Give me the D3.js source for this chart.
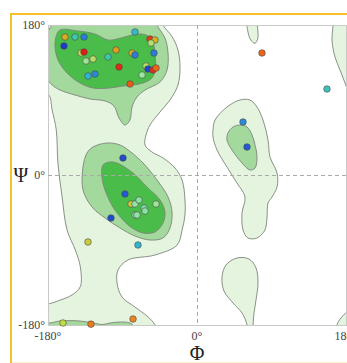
<!DOCTYPE html>
<html>
<head>
<meta charset="utf-8">
<script src="https://cdn.jsdelivr.net/npm/d3@7"></script>
<style>
  html, body { margin: 0; padding: 0; background: #fff; }
  svg { display: block; }
  .tick-label { font-family: "Liberation Serif", "DejaVu Serif", serif; font-size: 12px; fill: #444; }
  .axis-title { font-family: "Liberation Serif", "DejaVu Serif", serif; font-size: 20px; fill: #222; }
</style>
</head>
<body>
<svg id="chart" width="347" height="363"></svg>
<script>
// Backbone dihedral angles (degrees) for each residue
const phi = [-159.5, -147.4, -136.5, -160.7, -140.1, -136.5, -134.1, -125.6, -131.7, -123.2,
             -107.5, -97.9, -94.2, -80.9, -74.9, -78.5, -74.9, -56.8, -50.7, -55.6,
             -52.0, -61.6, -59.2, -53.2, -49.5, -66.4, 78.5, 157.0, 55.6, 60.4,
             -89.4, -87.0, -79.7, -74.9, -70.1, -64.0, -62.8, -74.9, -72.5, -49.5,
             -103.9, -131.7, -71.3, -161.9, -128.1, -77.3];
const psi = [165.6, 165.6, 165.6, 154.8, 146.4, 147.6, 136.8, 139.2, 118.8, 121.2,
             141.6, 150.0, 129.6, 109.2, 171.6, 146.4, 144.0, 163.2, 162.0, 158.4,
             146.4, 130.8, 127.2, 126.0, 128.4, 120.0, 146.4, 103.2, 63.6, 33.6,
             20.4, -22.8, -34.8, -34.8, -30.0, -39.6, -43.2, -48.0, -48.0, -34.8,
             -51.6, -80.4, -84.0, -177.6, -179.0, -172.8];
// Position along the chain (0 = N-terminus, 1 = C-terminus), used for colouring
const chainPosition = [0.72, 0.35, 0.12, 0.00, 0.58, 1.00, 0.50, 0.56, 0.25, 0.15,
                       0.35, 0.76, 0.98, 0.90, 0.28, 0.72, 0.12, 0.95, 0.70, 0.55,
                       0.12, 0.56, 0.02, 0.97, 0.88, 0.48, 0.88, 0.32, 0.15, 0.06,
                       0.03, 0.06, 0.64, 0.47, 0.46, 0.44, 0.46, 0.45, 0.47, 0.50,
                       0.03, 0.64, 0.26, 0.60, 0.84, 0.82];

// Tick labels
const phiTicks = [-180, 0, 180];
const psiTicks = [-180, 0, 180];

// Allowed regions (outermost contour), as [phi, psi] outlines
const allowedBetaAlpha = [[-190, 190], [-42, 190], [-41, 180], [-30, 166], [-23, 150], [-20.5, 130],
  [-23, 108], [-32.6, 90], [-44.7, 75.6], [-56.8, 60], [-61.6, 48], [-62.8, 36], [-54.4, 27.6],
  [-41, 20.4], [-26.6, 8.4], [-18, -6], [-14.5, -30], [-14.5, -48], [-18, -66], [-24, -84],
  [-50.7, -96], [-83.4, -102], [-95.4, -114], [-96.6, -129.6], [-90.6, -146.4], [-75, -158.4],
  [-59, -170.4], [-50.7, -180], [-47, -192], [-190, -192], [-190, -160], [-171.5, -152.4],
  [-151, -144], [-141, -134], [-141, -110], [-147, -90], [-157, -66], [-163, -26], [-168, 14],
  [-170, 54], [-175, 78], [-179, 96], [-190, 100]];
const allowedLeftAlpha = [[19.3, 54], [21.8, 66], [36.2, 81.6], [51.9, 90], [64, 90], [72.5, 81.6],
  [79.7, 66], [85.8, 42], [88.2, 21.6], [96.7, 2.4], [96.7, -14.4], [90.6, -26.4], [85.8, -33.6],
  [84.6, -50.4], [82.1, -66], [72.5, -75.6], [61.6, -75.6], [55.6, -66], [54.4, -45.6], [58, -26.4],
  [48.3, -9.6], [36.2, 9.6], [24.2, 30], [19.3, 45.6]];
const allowedGammaTop = [[61, 192], [61.5, 172], [65, 162], [70, 158], [73.5, 164], [73, 180], [73, 192]];
const allowedGammaBottom = [[30.2, -122.4], [35, -108], [48.3, -99.6], [62.8, -100.8], [71.3, -111.6],
  [73.7, -129.6], [71.3, -150], [68.9, -165.6], [67.7, -180], [67.7, -192], [60.4, -192], [60.4, -180],
  [54.4, -165.6], [43.5, -153.6], [32.6, -139.2]];
const allowedEdgeTop = [[164, 192], [164.3, 180], [163.1, 162], [166.7, 141.6], [172.8, 126],
  [178.8, 110.4], [185, 96], [192, 94], [192, 192]];
const allowedEdgeBottom = [[169, -192], [169, -180], [173.9, -171.6], [181, -164.4], [192, -158], [192, -192]];

// Generously favoured regions (middle contour)
const middleBeta = [[-177.5, 177], [-168, 181], [-50, 190], [-48.3, 180], [-38.7, 164.4], [-35, 146.4],
  [-36.2, 126], [-44.7, 111.6], [-62.8, 102], [-72.5, 93.6], [-78.5, 81.6], [-81, 66], [-87, 60],
  [-94.2, 68.4], [-100.3, 82.8], [-111, 88.8], [-129.3, 91.2], [-147.4, 96], [-165.5, 102],
  [-175, 108], [-180.5, 116], [-181, 150]];
const middleBetaBottom = [[-190, -192], [-190, -178], [-177.6, -177.6], [-165.5, -175.2], [-141.3, -175.2],
  [-125.6, -177.6], [-113.6, -179.4], [-105, -177.6], [-93, -176.4], [-81, -177.6], [-76, -182], [-76, -192]];
const middleAlpha = [[-132.9, 26.4], [-125.6, 33.6], [-108.7, 38.4], [-93, 36], [-78.5, 26.4],
  [-65.2, 14.4], [-48.3, -6], [-35, -26.4], [-30.2, -44.4], [-32.6, -63.6], [-41.1, -75.6],
  [-56.8, -78], [-74.9, -73.2], [-93, -63.6], [-111.1, -51.6], [-126.8, -38.4], [-137.7, -18],
  [-137.7, 9.6]];
const middleLeftAlpha = [[37.4, 50.4], [43.5, 57.6], [51.9, 60], [60.4, 57.6], [66.5, 48], [70.1, 36],
  [72.5, 21.6], [70.1, 8.4], [64, 6], [54.4, 14.4], [42.3, 30], [36.2, 42]];

// Core favoured regions (inner contour)
const coreBeta = [[-165.5, 174], [-143.8, 172.8], [-123.2, 169.2], [-107.5, 162], [-96.6, 163.2],
  [-83.4, 166.8], [-71.3, 169.2], [-61.6, 168], [-54.4, 162], [-50.7, 146.4], [-50.7, 126],
  [-54.4, 116.4], [-65.2, 110.4], [-77.3, 108], [-89.4, 106.8], [-105.1, 104.4], [-125.6, 104.4],
  [-141.3, 110.4], [-157, 122.4], [-167.9, 138], [-171.5, 153.6], [-170.3, 166]];
const coreAlpha = [[-113.6, 12], [-105.1, 15.6], [-96.6, 14.4], [-77.3, 2.4], [-60.4, -14.4],
  [-44.7, -30], [-38.7, -44.4], [-41.1, -57.6], [-50.7, -68.4], [-65.2, -69.6], [-78.5, -63.6],
  [-89.4, -54], [-101.5, -38.4], [-111.1, -18], [-114.8, -2.4]];

const margin = { left: 48, right: 346, top: 25, bottom: 325 };
const svg = d3.select("#chart");

// Page frame
svg.append("rect").attr("x", 0).attr("y", 0).attr("width", 347).attr("height", 363).attr("fill", "#fff");
svg.append("line").attr("x1", 11).attr("x2", 11).attr("y1", 13).attr("y2", 363)
  .attr("stroke", "#f7c12a").attr("stroke-width", 2);
svg.append("line").attr("x1", 10).attr("x2", 347).attr("y1", 14).attr("y2", 14)
  .attr("stroke", "#f7c12a").attr("stroke-width", 2);
svg.append("line").attr("x1", 12).attr("x2", 347).attr("y1", 362.5).attr("y2", 362.5)
  .attr("stroke", "#fcefcf").attr("stroke-width", 1);

const x = d3.scaleLinear().domain([-180, 180]).range([margin.left, margin.right]);
const y = d3.scaleLinear().domain([-180, 180]).range([margin.bottom, margin.top]);

svg.append("defs").append("clipPath").attr("id", "plot-clip")
  .append("rect")
  .attr("x", margin.left).attr("y", margin.top)
  .attr("width", margin.right - margin.left).attr("height", margin.bottom - margin.top);

const outline = d3.line()
  .x(d => x(d[0])).y(d => y(d[1]))
  .curve(d3.curveCatmullRomClosed.alpha(0.5));

const regions = svg.append("g").attr("clip-path", "url(#plot-clip)");
const levels = [
  { shapes: [allowedBetaAlpha, allowedLeftAlpha, allowedGammaTop, allowedGammaBottom, allowedEdgeTop, allowedEdgeBottom], fill: "#e4f4de" },
  { shapes: [middleBeta, middleBetaBottom, middleAlpha, middleLeftAlpha], fill: "#a3d99c" },
  { shapes: [coreBeta, coreAlpha], fill: "#4abc49" }
];
levels.forEach(level => {
  regions.append("g").selectAll("path")
    .data(level.shapes)
    .join("path")
    .attr("d", outline)
    .attr("fill", level.fill)
    .attr("stroke", "#7d857b")
    .attr("stroke-width", 0.9);
});

// Plot border
svg.append("rect")
  .attr("x", margin.left + 0.5).attr("y", margin.top + 0.5)
  .attr("width", margin.right - margin.left).attr("height", margin.bottom - margin.top)
  .attr("fill", "none").attr("stroke", "#c9c9c9").attr("stroke-width", 1);

// Zero lines
svg.append("line")
  .attr("x1", x(0) + 0.5).attr("x2", x(0) + 0.5).attr("y1", margin.top).attr("y2", margin.bottom)
  .attr("stroke", "#aaa").attr("stroke-width", 1).attr("stroke-dasharray", "4,3");
svg.append("line")
  .attr("x1", margin.left).attr("x2", margin.right).attr("y1", y(0) + 0.5).attr("y2", y(0) + 0.5)
  .attr("stroke", "#aaa").attr("stroke-width", 1).attr("stroke-dasharray", "4,3");

// Tick labels
svg.append("g").selectAll("text")
  .data(psiTicks)
  .join("text")
  .attr("class", "tick-label")
  .attr("x", margin.left - 3)
  .attr("y", d => y(d) + 4)
  .attr("text-anchor", "end")
  .text(d => d + "°");
svg.append("g").selectAll("text")
  .data(phiTicks)
  .join("text")
  .attr("class", "tick-label")
  .attr("x", d => x(d))
  .attr("y", margin.bottom + 15)
  .attr("text-anchor", "middle")
  .text(d => d + "°");

// Axis titles
svg.append("text").attr("class", "axis-title")
  .attr("x", x(0)).attr("y", 360).attr("text-anchor", "middle").text("Φ");
svg.append("text").attr("class", "axis-title")
  .attr("x", 21).attr("y", y(0) + 7).attr("text-anchor", "middle").text("Ψ");

// Residues
const colour = d3.scaleLinear()
  .domain([0, 0.12, 0.25, 0.35, 0.48, 0.6, 0.7, 0.82, 0.9, 1])
  .range(["#1c3acd", "#2a7cd8", "#2fb4d6", "#3ec8b0", "#98e6a2", "#c2dc46", "#d4b222", "#ec861e", "#ea5a16", "#e01c14"]);

const residues = phi.map((p, i) => ({ phi: p, psi: psi[i], t: chainPosition[i] }));
svg.append("g").selectAll("circle")
  .data(residues)
  .join("circle")
  .attr("cx", d => x(d.phi))
  .attr("cy", d => y(d.psi))
  .attr("r", 3.3)
  .attr("fill", d => colour(d.t))
  .attr("stroke", "#4a4a4a")
  .attr("stroke-opacity", 0.75)
  .attr("stroke-width", 0.8);
</script>
</body>
</html>
